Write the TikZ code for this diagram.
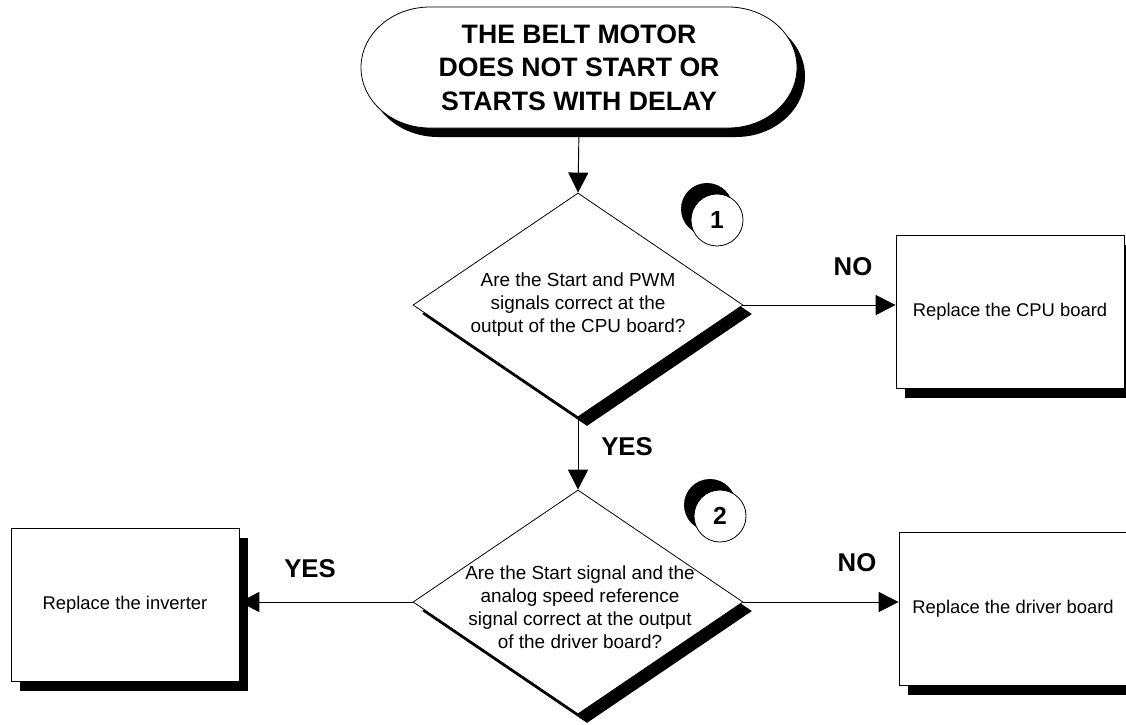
\documentclass[tikz,border=0pt]{standalone}
\usepackage{fontspec}
\setmainfont{Liberation Sans}
\usetikzlibrary{shapes.geometric,shadows,arrows.meta}
\begin{document}
\begin{tikzpicture}[x=0.75pt,y=-0.75pt,
  outline/.style={draw=black,line width=0.6pt,fill=white},
  solidshadow/.style 2 args={drop shadow={shadow xshift=#1,shadow yshift=#2,fill=black,opacity=1}},
  terminal/.style={rectangle,minimum width=327pt,minimum height=90.75pt,inner sep=0pt,
     font=\fontsize{20}{25}\selectfont\bfseries,align=center},
  decision/.style={outline,diamond,minimum width=247.5pt,minimum height=168pt,inner sep=0pt,
     solidshadow={6.75pt}{-6.75pt}},
  qtext/.style={font=\fontsize{14.2}{17.25}\selectfont,align=center},
  action/.style={outline,rectangle,minimum width=171pt,minimum height=114.75pt,inner sep=0pt,
     solidshadow={6.75pt}{-7.5pt},
     font=\fontsize{13.8}{17.25}\selectfont},
  marker/.style={outline,circle,minimum size=39pt,inner sep=0pt,
     solidshadow={-7.5pt}{8.25pt},
     font=\fontsize{18.5}{20}\selectfont\bfseries},
  answer/.style={font=\fontsize{19.3}{22}\selectfont\bfseries},
  flow/.style={draw=black,line width=0.7pt,-{Triangle[length=15pt,width=15pt]}}
]
\useasboundingbox (0,0) rectangle (1126,724);

% start of the procedure: a bar with elliptic ends and a solid shadow
\draw[outline,solidshadow={6pt}{-6.75pt}]
  (430,7) -- (728,7) arc[start angle=-90,end angle=90,x radius=69,y radius=60.5]
  -- (430,128) arc[start angle=90,end angle=270,x radius=69,y radius=60.5] -- cycle;
\node[terminal] (start) at (579,67.5) {THE BELT MOTOR\\DOES NOT START OR\\STARTS WITH DELAY};

% first check
\node[decision,label={[qtext]center:{Are the Start and PWM\\signals correct at the\\output of the CPU board?}}]
  (q1) at (578,305) {};
\node[marker] (m1) at (717,220) {1};

% second check
\node[decision,label={[qtext,xshift=1.5pt,yshift=-4pt]center:{Are the Start signal and the\\analog speed reference\\signal correct at the output\\of the driver board?}}]
  (q2) at (578,602) {};
\node[marker] (m2) at (720,516) {2};

% remedies
\node[action] (cpu) at (1010,311.5) {Replace the CPU board};
\node[action] (inv) at (125,604.5) {Replace the inverter};
\node[action] (drv) at (1013,608.5) {Replace the driver board};

% connectors
\draw[flow] (start.south) -- (q1.north);
\draw[flow] (q1.east) -- (q1.east -| cpu.west);
\draw[flow] (q1.south) -- (q2.north);
\draw[flow] (q2.west) -- (q2.west -| inv.east);
\draw[flow] (q2.east) -- (q2.east -| drv.west);

% answers
\node[answer] (no1) at (853,267) {NO};
\node[answer] (yes1) at (627,447) {YES};
\node[answer] (yes2) at (310,569) {YES};
\node[answer] (no2) at (857,563) {NO};
\end{tikzpicture}
\end{document}
